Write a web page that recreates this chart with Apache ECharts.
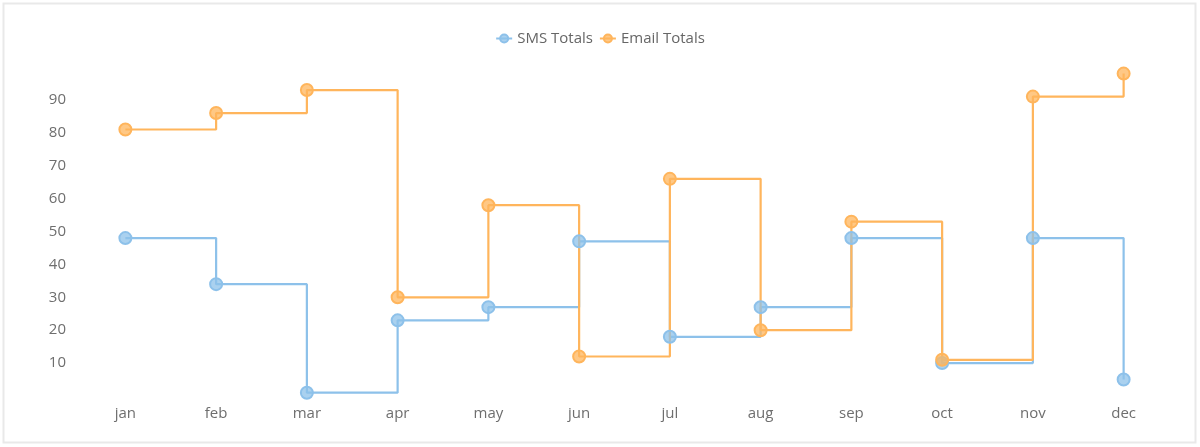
<!DOCTYPE html>
<html>
<head>
<meta charset="utf-8">
<title>SMS / Email Totals</title>
<script src="https://cdn.jsdelivr.net/npm/echarts@6/dist/echarts.min.js"></script>
<style>
    html, body { margin: 0; padding: 0; background: #fff; }
    #chart { width: 1200px; height: 447px; }
</style>
</head>
<body>
<div id="chart"></div>
<script>
const months = ['jan', 'feb', 'mar', 'apr', 'may', 'jun', 'jul', 'aug', 'sep', 'oct', 'nov', 'dec'];
const smsTotals = [48, 34, 1, 23, 27, 47, 18, 27, 48, 10, 48, 5];
const emailTotals = [81, 86, 93, 30, 58, 12, 66, 20, 53, 11, 91, 98];

const fontFamily = '"Open Sans", "Noto Sans", sans-serif';
const smsColor = '#8dc1ea';
const emailColor = '#ffb55c';

const chart = echarts.init(document.getElementById('chart'));
const option = {
    color: [smsColor, emailColor],
    textStyle: { fontFamily: fontFamily },
    // light frame round the whole chart
    graphic: [
        {
            type: 'rect',
            silent: true,
            shape: { x: 3.5, y: 3.5, width: 1192, height: 439 },
            style: { fill: 'none', stroke: '#e9e9e9', lineWidth: 2 }
        }
    ],
    legend: {
        top: 26,
        left: 'center',
        itemGap: 6,
        itemWidth: 16,
        itemHeight: 10,
        textStyle: { color: '#666', fontSize: 15, fontFamily: fontFamily }
    },
    grid: {
        left: 80,
        right: 31,
        top: 67,
        bottom: 51
    },
    xAxis: {
        type: 'category',
        data: months,
        boundaryGap: true,
        axisLine: { show: false },
        axisTick: { show: false },
        axisLabel: { color: '#6e6e6e', fontSize: 15, margin: 10 }
    },
    yAxis: {
        type: 'value',
        min: 0,
        max: 100,
        interval: 10,
        axisLine: { show: false },
        axisTick: { show: false },
        splitLine: { show: false },
        axisLabel: {
            color: '#6e6e6e',
            fontSize: 15,
            margin: 14,
            showMinLabel: false,
            showMaxLabel: false
        }
    },
    series: [
        {
            name: 'SMS Totals',
            type: 'line',
            step: 'end',
            data: smsTotals,
            symbol: 'circle',
            symbolSize: 12,
            lineStyle: { width: 2.2, color: smsColor },
            itemStyle: { color: 'rgba(141,193,234,0.75)', borderColor: smsColor, borderWidth: 2 }
        },
        {
            name: 'Email Totals',
            type: 'line',
            step: 'end',
            data: emailTotals,
            symbol: 'circle',
            symbolSize: 12,
            lineStyle: { width: 2.2, color: emailColor },
            itemStyle: { color: 'rgba(255,181,92,0.75)', borderColor: emailColor, borderWidth: 2 }
        }
    ]
};
chart.setOption(option);
</script>
</body>
</html>
